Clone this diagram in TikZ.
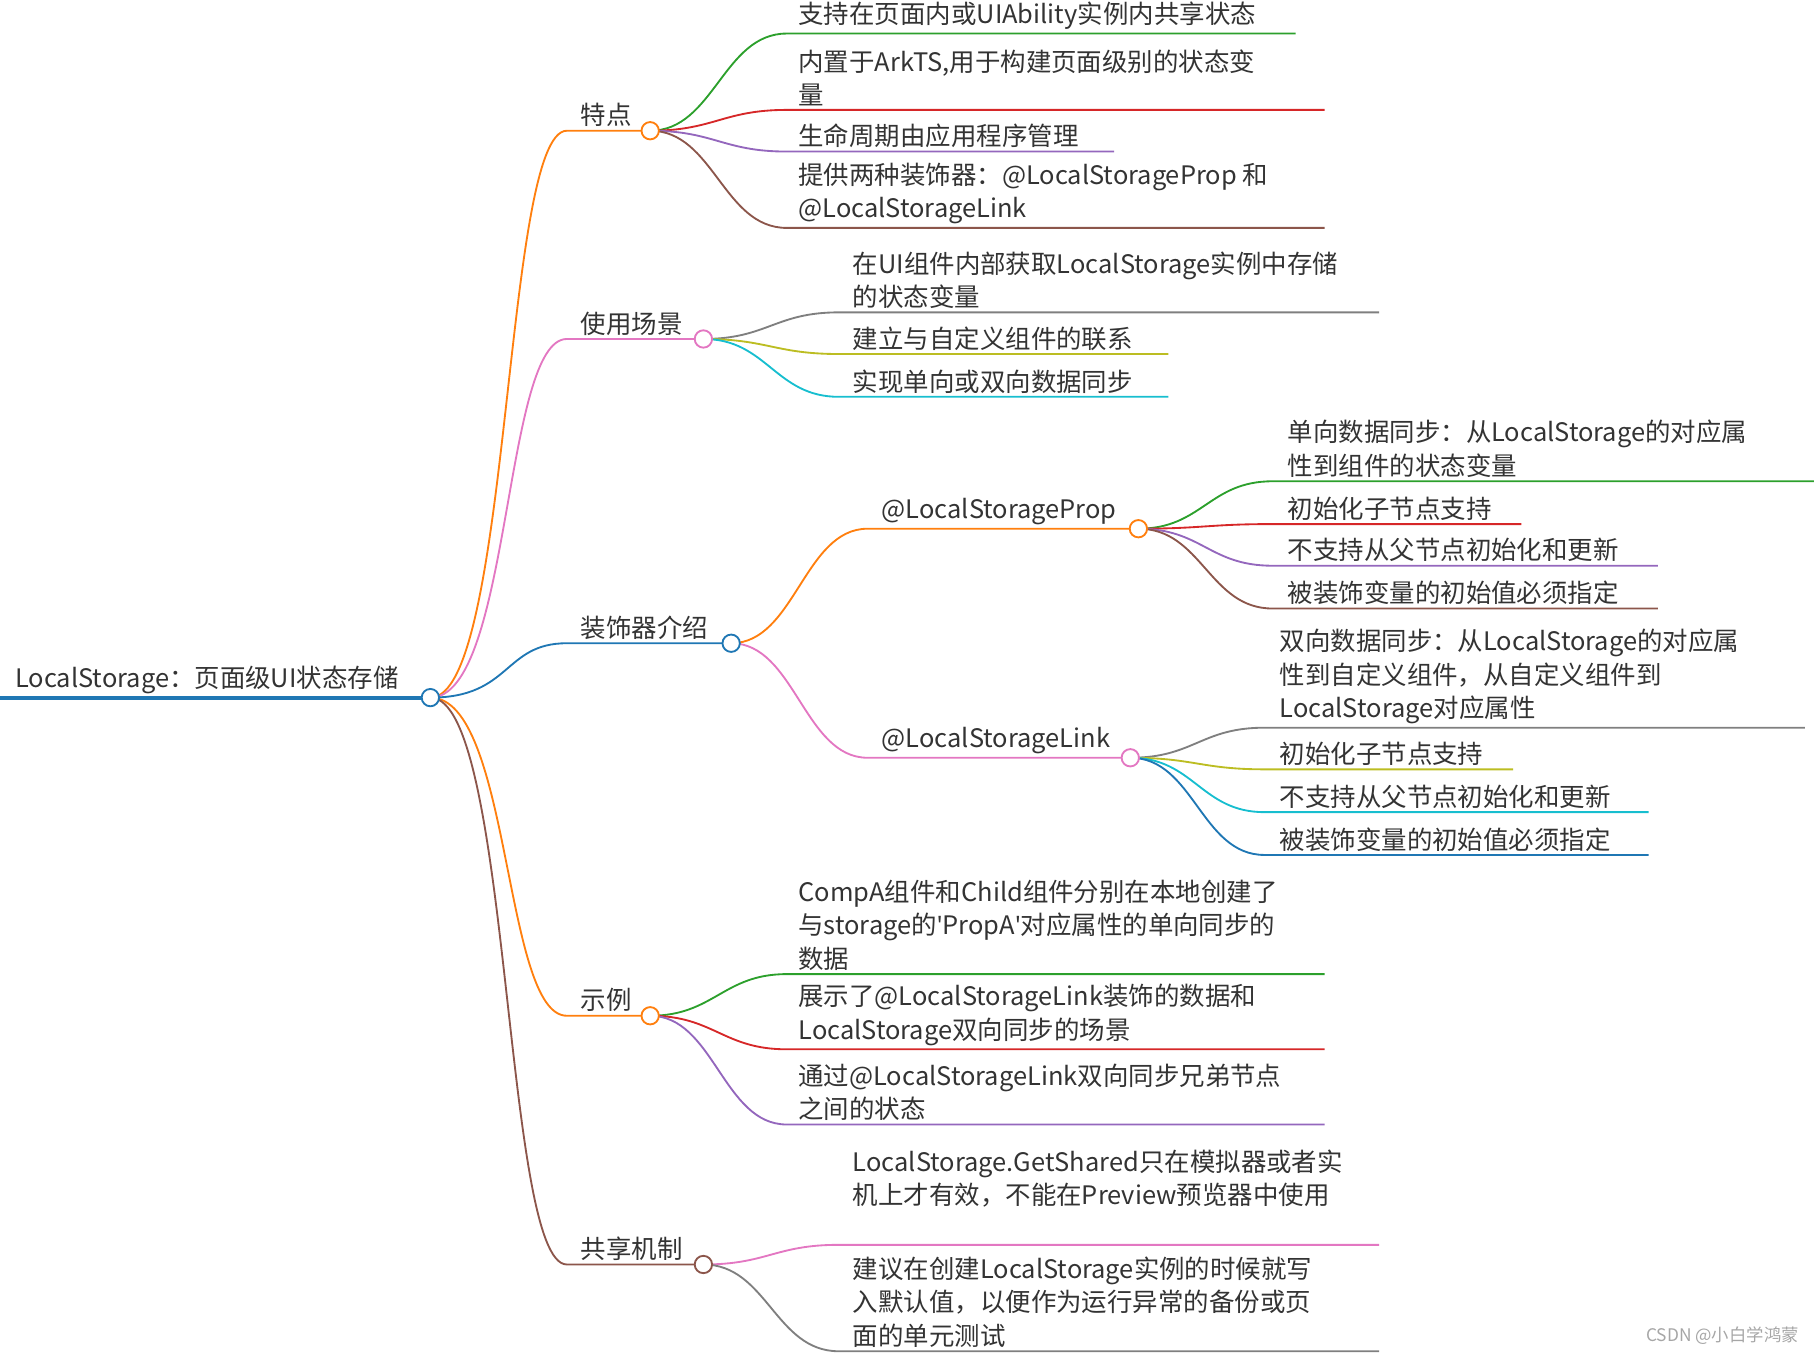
\documentclass[tikz,border=0pt]{standalone}
\usepackage{fontspec}
\setmainfont{Noto Sans CJK SC}
\newfontfamily\latf{Noto Sans}
\begin{document}
\definecolor{cor}{HTML}{FF7F0E}
\definecolor{cpk}{HTML}{E377C2}
\definecolor{cbl}{HTML}{1F77B4}
\definecolor{cbr}{HTML}{8C564B}
\definecolor{cgr}{HTML}{2CA02C}
\definecolor{crd}{HTML}{D62728}
\definecolor{cpu}{HTML}{9467BD}
\definecolor{cgy}{HTML}{7F7F7F}
\definecolor{col}{HTML}{BCBD22}
\definecolor{ccy}{HTML}{17BECF}
\definecolor{ctx}{HTML}{333333}
\begin{tikzpicture}[x=1pt,y=-1pt,
  txt/.style={anchor=south west,inner sep=0pt,align=left,text=ctx,font=\fontsize{22}{29}\selectfont},
  dot/.style={circle,draw=#1,fill=white,line width=1.6pt,minimum size=15pt,inner sep=0pt},
  br/.style={draw=#1,line width=1.6pt}]
\useasboundingbox (0,0) rectangle (1568,1170);
\newcommand\lf[8]{%
  \coordinate (#1s) at (#4,#5); \coordinate (#1e) at (#6,#5);
  \draw[br=#2] (#3) .. controls +(55,0) and +(-55,0) .. (#1s) -- (#1e);
  \node[txt] (#1t) at (#7,#5-3) {#8};}
\coordinate (r0) at (0,603);
\node[txt] (rt) at (13,600) {LocalStorage：页面级UI状态存储};
\draw[cbl,line width=3.5pt] (r0) -- (372,603);
\coordinate (R) at (372,603);
\newcommand\lo[6]{%
  \coordinate (#1s) at (490,#4);
  \draw[br=#2] (R) .. controls +(70,0) and +(-55,0) .. (#1s) -- (#3,#4) coordinate (#1);
  \node[txt] (#1t) at (#6,#4-3) {#5};}
\lo{A}{cor}{562}{113}{特点}{502}
\lo{B}{cpk}{608}{293}{使用场景}{502}
\lo{C}{cbl}{632}{556}{装饰器介绍}{502}
\lo{D}{cor}{562}{878}{示例}{502}
\lo{E}{cbr}{608}{1093}{共享机制}{502}
\lf{a1}{cgr}{A}{680}{29}{1120}{690}{支持在页面内或UIAbility实例内共享状态}
\lf{a2}{crd}{A}{680}{95}{1145}{690}{内置于ArkTS,用于构建页面级别的状态变\\量}
\lf{a3}{cpu}{A}{680}{131}{963}{690}{生命周期由应用程序管理}
\lf{a4}{cbr}{A}{680}{197}{1145}{690}{提供两种装饰器：@LocalStorageProp 和\\@LocalStorageLink}
\lf{b1}{cgy}{B}{725}{270}{1192}{737}{在UI组件内部获取LocalStorage实例中存储\\的状态变量}
\lf{b2}{col}{B}{725}{306}{1010}{737}{建立与自定义组件的联系}
\lf{b3}{ccy}{B}{725}{343}{1010}{737}{实现单向或双向数据同步}
\coordinate (Ps) at (750,457);
\draw[br=cor] (C) .. controls +(55,0) and +(-55,0) .. (Ps) -- (984,457) coordinate (P);
\node[txt] at (762,454) {@LocalStorageProp};
\coordinate (Ls) at (750,655);
\draw[br=cpk] (C) .. controls +(55,0) and +(-55,0) .. (Ls) -- (977,655) coordinate (L);
\node[txt] at (762,652) {@LocalStorageLink};
\lf{p1}{cgr}{P}{1100}{416}{1568}{1113}{单向数据同步：从LocalStorage的对应属\\性到组件的状态变量}
\lf{p2}{crd}{P}{1100}{453}{1315}{1113}{初始化子节点支持}
\lf{p3}{cpu}{P}{1100}{489}{1433}{1113}{不支持从父节点初始化和更新}
\lf{p4}{cbr}{P}{1100}{526}{1433}{1113}{被装饰变量的初始值必须指定}
\lf{l1}{cgy}{L}{1093}{629}{1560}{1106}{双向数据同步：从LocalStorage的对应属\\性到自定义组件，从自定义组件到\\LocalStorage对应属性}
\lf{l2}{col}{L}{1093}{665}{1308}{1106}{初始化子节点支持}
\lf{l3}{ccy}{L}{1093}{702}{1425}{1106}{不支持从父节点初始化和更新}
\lf{l4}{cbl}{L}{1093}{739}{1425}{1106}{被装饰变量的初始值必须指定}
\lf{d1}{cgr}{D}{680}{842}{1145}{690}{CompA组件和Child组件分别在本地创建了\\与storage的{\latf\char39}PropA{\latf\char39}对应属性的单向同步的\\数据}
\lf{d2}{crd}{D}{680}{907}{1145}{690}{展示了@LocalStorageLink装饰的数据和\\LocalStorage双向同步的场景}
\lf{d3}{cpu}{D}{680}{972}{1145}{690}{通过@LocalStorageLink双向同步兄弟节点\\之间的状态}
\coordinate (e1s) at (725,1076); \coordinate (e1e) at (1192,1076);
\draw[br=cpk] (E) .. controls +(55,0) and +(-55,0) .. (e1s) -- (e1e);
\node[txt] at (737,1044) {LocalStorage.GetShared只在模拟器或者实\\机上才有效，不能在Preview预览器中使用};
\lf{e2}{cgy}{E}{725}{1168}{1192}{737}{建议在创建LocalStorage实例的时候就写\\入默认值，以便作为运行异常的备份或页\\面的单元测试}
\node[dot=cbl] at (R) {};
\node[dot=cor] at (A) {};
\node[dot=cpk] at (B) {};
\node[dot=cbl] at (C) {};
\node[dot=cor] at (D) {};
\node[dot=cbr] at (E) {};
\node[dot=cor] at (P) {};
\node[dot=cpk] at (L) {};
\node[anchor=south east,inner sep=0pt,text=gray!70,font=\fontsize{15}{18}\selectfont] (wm) at (1555,1162) {CSDN @小白学鸿蒙};
\end{tikzpicture}
\end{document}
